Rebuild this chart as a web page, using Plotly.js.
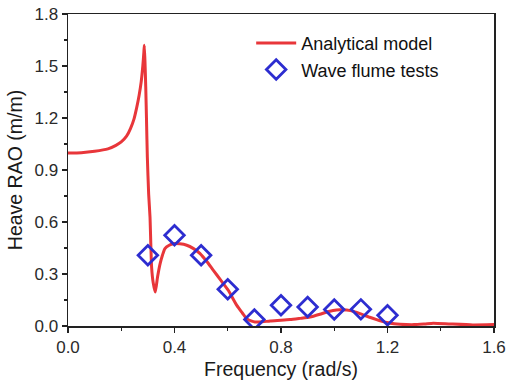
<!DOCTYPE html>
<html><head><meta charset="utf-8">
<script src="https://cdn.plot.ly/plotly-3.0.1.min.js"></script>
<style>html,body{margin:0;padding:0;background:#fff}#c{width:507px;height:382px}</style>
</head><body><div id="c"></div>
<script>
const modelFreq = [0.0,0.05,0.10,0.15,0.18,0.20,0.22,0.235,0.248,0.258,0.267,0.275,0.281,0.285,0.2866,0.289,0.292,0.295,0.298,0.303,0.308,0.314,0.320,0.328,0.336,0.346,0.355,0.364,0.380,0.396,0.420,0.446,0.470,0.496,0.520,0.546,0.575,0.602,0.634,0.655,0.671,0.690,0.702,0.730,0.759,0.800,0.834,0.871,0.909,0.946,0.975,0.996,1.020,1.047,1.075,1.097,1.130,1.159,1.180,1.197,1.225,1.247,1.300,1.340,1.372,1.430,1.520,1.600];
const modelRAO  = [0.998,1.000,1.008,1.022,1.042,1.062,1.095,1.140,1.195,1.260,1.330,1.410,1.500,1.580,1.620,1.530,1.380,1.180,0.975,0.760,0.629,0.340,0.250,0.196,0.280,0.360,0.410,0.447,0.466,0.475,0.474,0.466,0.448,0.418,0.375,0.321,0.262,0.206,0.119,0.075,0.043,0.028,0.023,0.024,0.029,0.033,0.037,0.044,0.052,0.068,0.082,0.090,0.094,0.092,0.083,0.071,0.052,0.037,0.027,0.020,0.013,0.010,0.008,0.012,0.016,0.012,0.006,0.008];
const testFreq = [0.3,0.4,0.5,0.6,0.7,0.8,0.9,1.0,1.1,1.2];
const testRAO  = [0.408,0.523,0.408,0.212,0.037,0.120,0.110,0.095,0.096,0.062];
const xTicks = [0.0,0.4,0.8,1.2,1.6];
const yTicks = [0.0,0.3,0.6,0.9,1.2,1.5,1.8];

const traces = [
  {x: modelFreq, y: modelRAO, mode: 'lines', name: 'Analytical model',
   line: {color: '#e8363a', width: 3, shape: 'spline', smoothing: 0.5}},
  {x: testFreq, y: testRAO, mode: 'markers', name: 'Wave flume tests',
   marker: {symbol: 'diamond-open', size: 15, color: '#2d2dd0', line: {width: 2.8, color: '#2d2dd0'}}}
];
const FF = 'Liberation Sans, Arial, sans-serif';
const tickFont = {family: FF, size: 17, color: '#2a2a2a'};
const titleFont = {family: FF, size: 19.5, color: '#1a1a1a'};
const layout = {
  width: 507, height: 382,
  margin: {l: 68, r: 13, t: 14, b: 56},
  paper_bgcolor: '#fff', plot_bgcolor: '#fff',
  font: tickFont,
  showlegend: true,
  legend: {x: 0.43, y: 0.965, xanchor: 'left', yanchor: 'top', bgcolor: 'rgba(0,0,0,0)',
           font: {family: FF, size: 18, color: '#111'}, tracegroupgap: 0, itemwidth: 40},
  xaxis: {range: [0, 1.6], tickvals: xTicks, ticktext: xTicks.map(v => v.toFixed(1)),
          ticks: 'outside', ticklen: 5, tickwidth: 1.3, tickcolor: '#222',
          minor: {ticks: 'outside', ticklen: 3, tickwidth: 1.2, tickcolor: '#222', tickvals: [0.2,0.6,1.0,1.4]},
          showline: true, linecolor: '#222', linewidth: 1.5, mirror: true, showgrid: false, zeroline: false,
          title: {text: 'Frequency (rad/s)', font: titleFont, standoff: 6},
          tickfont: tickFont},
  yaxis: {range: [0, 1.8], tickvals: yTicks, ticktext: yTicks.map(v => v.toFixed(1)),
          ticks: 'outside', ticklen: 5, tickwidth: 1.3, tickcolor: '#222',
          minor: {ticks: 'outside', ticklen: 3, tickwidth: 1.2, tickcolor: '#222', tickvals: [0.15,0.45,0.75,1.05,1.35,1.65]},
          showline: true, linecolor: '#222', linewidth: 1.5, mirror: true, showgrid: false, zeroline: false,
          title: {text: 'Heave RAO (m/m)', font: titleFont, standoff: 6},
          tickfont: tickFont}
};
Plotly.newPlot('c', traces, layout, {displayModeBar: false, staticPlot: true});
</script></body></html>
